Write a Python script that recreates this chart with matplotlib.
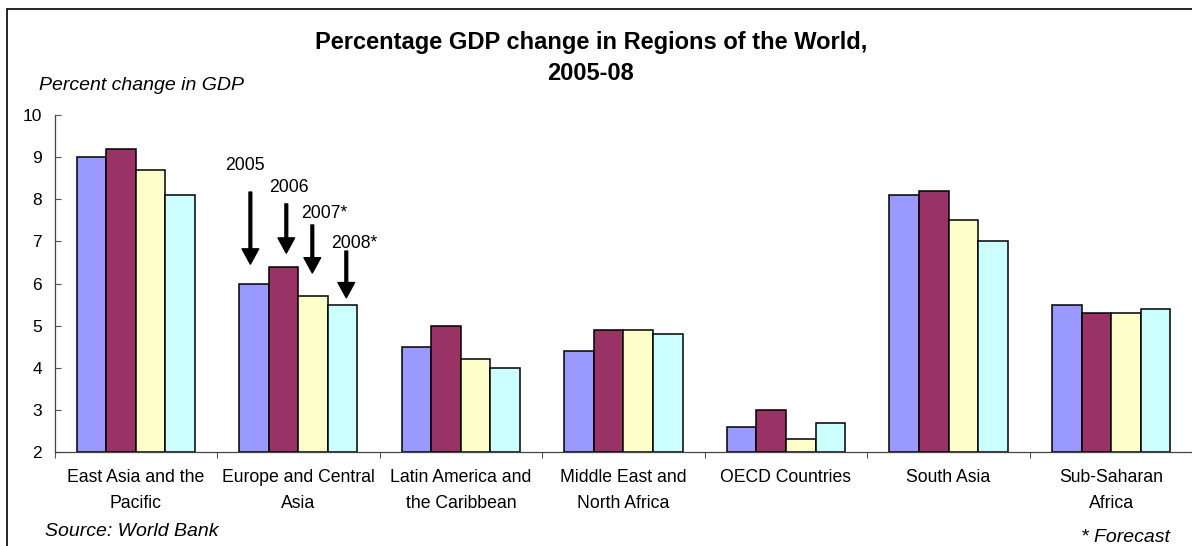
import matplotlib
matplotlib.use("Agg")
import matplotlib.pyplot as plt
import numpy as np
from matplotlib.patches import Rectangle

REGIONS = [
    "East Asia and the\nPacific",
    "Europe and Central\nAsia",
    "Latin America and\nthe Caribbean",
    "Middle East and\nNorth Africa",
    "OECD Countries",
    "South Asia",
    "Sub-Saharan\nAfrica",
]
YEARS = ["2005", "2006", "2007*", "2008*"]
GDP_2005 = [9.0, 6.0, 4.5, 4.4, 2.6, 8.1, 5.5]
GDP_2006 = [9.2, 6.4, 5.0, 4.9, 3.0, 8.2, 5.3]
GDP_2007 = [8.7, 5.7, 4.2, 4.9, 2.3, 7.5, 5.3]
GDP_2008 = [8.1, 5.5, 4.0, 4.8, 2.7, 7.0, 5.4]

COLORS = ["#9999FF", "#993366", "#FFFFCC", "#CCFFFF"]

plt.rcParams["font.family"] = ["Liberation Sans", "DejaVu Sans"]

fig = plt.figure(figsize=(11.92, 5.46), dpi=100)
ax = fig.add_axes([54.5 / 1192, 1 - 452 / 546, 1139.5 / 1192, 337 / 546])

x = np.arange(len(REGIONS))
width = 0.182
series = [GDP_2005, GDP_2006, GDP_2007, GDP_2008]
for i, vals in enumerate(series):
    ax.bar(x + (i - 1.5) * width, np.array(vals) - 2, width, bottom=2,
           color=COLORS[i], edgecolor="black", linewidth=1.1, zorder=2)

ax.set_xlim(-0.5, 6.5 + 0.01)
ax.set_ylim(2, 10)
ax.set_yticks(range(2, 11))
ax.tick_params(axis="y", direction="in", length=4, width=0.8, color="#555555",
               labelsize=12.5, pad=9)
ax.set_xticks(x)
ax.set_xticklabels(REGIONS, fontsize=12.7, linespacing=1.75)
ax.set_xticks(np.arange(-0.5, 7.0, 1.0), minor=True)
ax.tick_params(axis="x", which="major", length=0, pad=12)
ax.tick_params(axis="x", which="minor", direction="out", length=4, width=0.8,
               color="#555555")
ax.spines[["top", "right"]].set_visible(False)
for s in ["left", "bottom"]:
    ax.spines[s].set_color("#444444")
    ax.spines[s].set_linewidth(0.9)

# year call-outs over the Europe and Central Asia group
callouts = [
    # label, text x, text y, arrow x, tail y, tip y
    ("2005", 0.551, 8.69, 0.705, 8.17, 6.46),
    ("2006", 0.821, 8.17, 0.926, 7.89, 6.72),
    ("2007*", 1.018, 7.55, 1.086, 7.39, 6.25),
    ("2008*", 1.203, 6.84, 1.295, 6.77, 5.66),
]
for lab, tx, ty, axx, tail, tip in callouts:
    ax.text(tx, ty, lab, fontsize=12.7, ha="left", va="baseline")
    ax.annotate("", xy=(axx, tip), xytext=(axx, tail),
                arrowprops=dict(facecolor="black", edgecolor="black",
                                width=2.0, headwidth=12, headlength=11,
                                shrink=0))

fig.text(591 / 1192, 1 - 58 / 546,
         "Percentage GDP change in Regions of the World,\n2005-08",
         fontsize=17, fontweight="bold", ha="center", va="center",
         linespacing=1.5)
fig.text(39 / 1192, 1 - 85 / 546, "Percent change in GDP", fontsize=14,
         style="italic", ha="left", va="center")
fig.text(45 / 1192, 1 - 531 / 546, "Source: World Bank", fontsize=14,
         style="italic", ha="left", va="center")
fig.text(1170 / 1192, 1 - 538 / 546, "* Forecast", fontsize=14,
         style="italic", ha="right", va="center")

# chart frame (only top and left edges are visible in the crop)
fig.patches.append(Rectangle((7 / 1192, -0.1), 1.2, 1 - 9 / 546 + 0.1,
                             transform=fig.transFigure, fill=False,
                             edgecolor="black", linewidth=1.2))

fig.savefig("out.png", dpi=100)
